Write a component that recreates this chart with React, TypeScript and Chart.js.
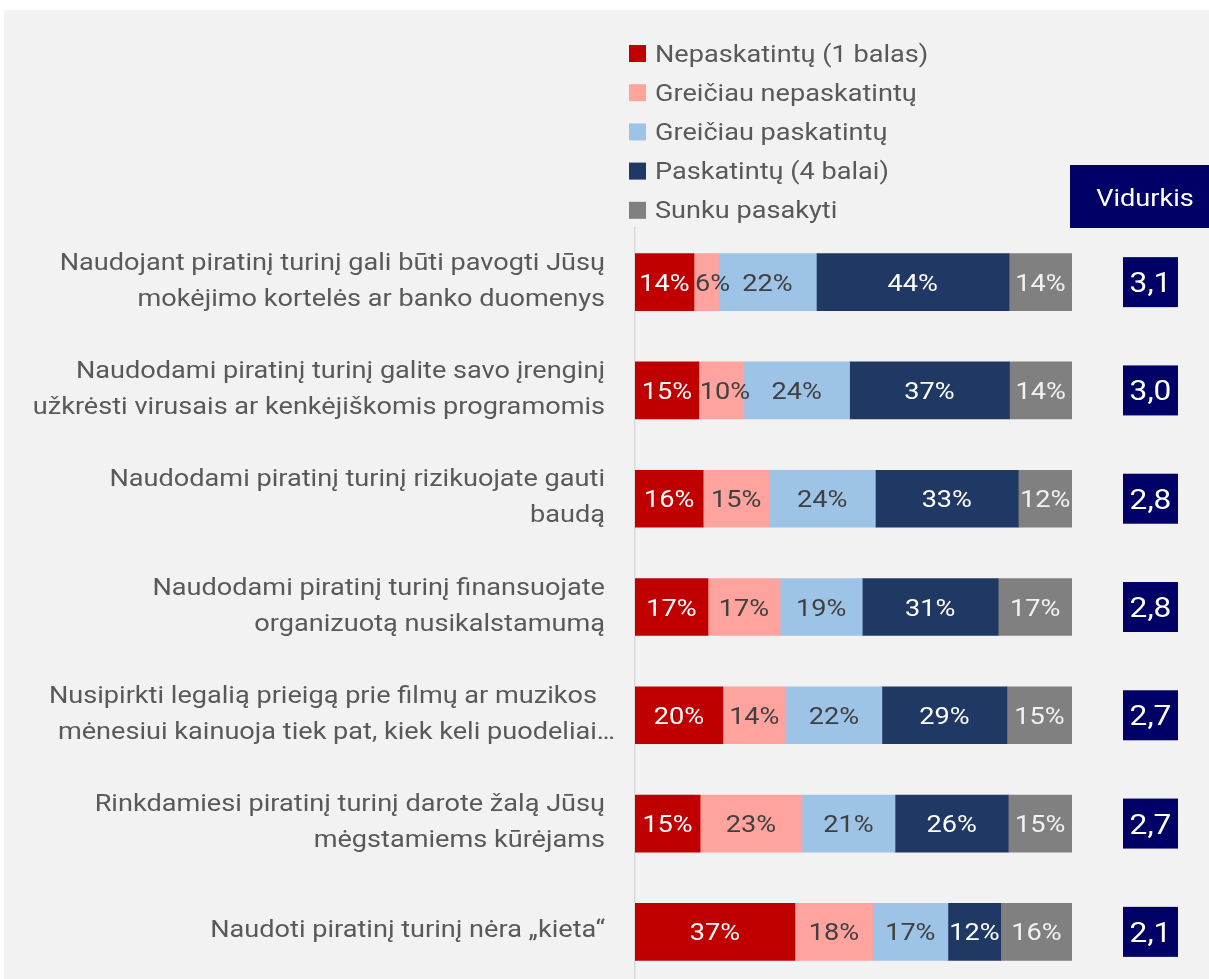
import React, { useEffect, useRef } from "react";
import { Chart, registerables } from "chart.js";
Chart.register(...registerables);

const categories: string[][] = [
  ["Naudojant piratinį turinį gali būti pavogti Jūsų", "mokėjimo kortelės ar banko duomenys"],
  ["Naudodami piratinį turinį galite savo įrenginį", "užkrėsti virusais ar kenkėjiškomis programomis"],
  ["Naudodami piratinį turinį rizikuojate gauti", "baudą"],
  ["Naudodami piratinį turinį finansuojate", "organizuotą nusikalstamumą"],
  ["Nusipirkti legalią prieigą prie filmų ar muzikos", "mėnesiui kainuoja tiek pat, kiek keli puodeliai…"],
  ["Rinkdamiesi piratinį turinį darote žalą Jūsų", "mėgstamiems kūrėjams"],
  ["Naudoti piratinį turinį nėra „kieta“"],
];

const seriesNames = [
  "Nepaskatintų (1 balas)",
  "Greičiau nepaskatintų",
  "Greičiau paskatintų",
  "Paskatintų (4 balai)",
  "Sunku pasakyti",
];

const nepaskatintu = [13.5, 14.6, 15.6, 16.7, 20.1, 14.9, 36.6];
const greiciauNepaskatintu = [5.6, 10.3, 15.1, 16.5, 14.4, 23.3, 17.8];
const greiciauPaskatintu = [22.4, 24.2, 24.3, 18.8, 22.0, 21.3, 17.2];
const paskatintu = [44.1, 36.6, 32.7, 31.1, 28.6, 25.9, 12.1];
const sunkuPasakyti = [14.4, 14.3, 12.3, 16.9, 14.9, 14.6, 16.3];

const averages = ["3,1", "3,0", "2,8", "2,8", "2,7", "2,7", "2,1"];
const averageHeader = "Vidurkis";

const seriesColors = ["#c00000", "#ffa39e", "#9dc3e6", "#203864", "#808080"];
const labelColors = ["#ffffff", "#404040", "#404040", "#ffffff", "#f2f2f2"];
const FONT = "Roboto, 'Noto Sans', sans-serif";
const SX = 1.13;

const W = 1209;
const H = 1000;

function textWidth(ctx: CanvasRenderingContext2D, text: string, size: number) {
  ctx.save();
  ctx.font = `${size}px ${FONT}`;
  const w = ctx.measureText(text).width * SX;
  ctx.restore();
  return w;
}

function drawText(ctx: CanvasRenderingContext2D, text: string, x: number, capCenterY: number, size: number, align: CanvasTextAlign, color: string) {
  ctx.save();
  ctx.font = `${size}px ${FONT}`;
  ctx.fillStyle = color;
  ctx.textAlign = align;
  ctx.textBaseline = "alphabetic";
  ctx.translate(x, capCenterY + size * 0.355);
  ctx.scale(SX, 1);
  ctx.fillText(text, 0, 0);
  ctx.restore();
}

export default function App() {
  const ref = useRef<HTMLCanvasElement | null>(null);

  useEffect(() => {
    const canvas = ref.current;
    if (!canvas) return;
    const values = [nepaskatintu, greiciauNepaskatintu, greiciauPaskatintu, paskatintu, sunkuPasakyti];

    const bgPlugin = {
      id: "bg",
      beforeDraw(chart: any) {
        const ctx = chart.ctx;
        ctx.save();
        ctx.fillStyle = "#ffffff";
        ctx.fillRect(0, 0, chart.width, chart.height);
        ctx.fillStyle = "#f2f2f2";
        ctx.fillRect(4, 10, chart.width - 4, chart.height - 10);
        ctx.restore();
      },
    };

    const overlayPlugin = {
      id: "overlay",
      afterDatasetsDraw(chart: any) {
        const ctx = chart.ctx;
        chart.data.datasets.forEach((ds: any, di: number) => {
          const meta = chart.getDatasetMeta(di);
          meta.data.forEach((bar: any, i: number) => {
            const v = ds.data[i];
            const txt = `${Math.round(v)}%`;
            const left = Math.min(bar.x, bar.base);
            const segW = Math.abs(bar.x - bar.base);
            const tw = textWidth(ctx, txt, 24);
            if (tw > segW + 4) {
              drawText(ctx, txt, left + 1, bar.y, 24, "left", labelColors[di]);
            } else {
              drawText(ctx, txt, left + segW / 2, bar.y, 24, "center", labelColors[di]);
            }
          });
        });
      },
      afterDraw(chart: any) {
        const ctx = chart.ctx;
        const yScale = chart.scales.y;
        // category labels (right-aligned; the truncated 5th label sits slightly off, as in the source)
        categories.forEach((lines, i) => {
          const yc = yScale.getPixelForValue(i) - 3;
          lines.forEach((line, j) => {
            const y = yc + (j - (lines.length - 1) / 2) * 36;
            let x = 605;
            if (line.endsWith("…")) x = 615;
            else if (i === 4) x = 597;
            drawText(ctx, line, x, y, 24, "right", "#595959");
          });
        });
        // legend
        seriesNames.forEach((name, i) => {
          const y = 53 + i * 39.2;
          ctx.fillStyle = seriesColors[i];
          ctx.fillRect(629, y - 8, 17, 17);
          drawText(ctx, name, 655, y, 24, "left", "#595959");
        });
        // average header
        ctx.fillStyle = "#000066";
        ctx.fillRect(1070, 165, W - 1070, 63);
        drawText(ctx, averageHeader, 1145, 197, 24, "center", "#ffffff");
        // averages
        averages.forEach((a, i) => {
          const y = yScale.getPixelForValue(i);
          ctx.fillStyle = "#000066";
          ctx.fillRect(1123, y - 25, 55, 50);
          drawText(ctx, a, 1150.5, y, 28, "center", "#ffffff");
        });
      },
    };

    const chart = new Chart(canvas, {
      type: "bar",
      data: {
        labels: categories.map((c) => c.join(" ")),
        datasets: values.map((d, i) => ({
          label: seriesNames[i],
          data: d,
          backgroundColor: seriesColors[i],
          borderWidth: 0,
          barThickness: 57,
        })),
      },
      options: {
        indexAxis: "y",
        responsive: false,
        animation: false,
        devicePixelRatio: 1,
        layout: { autoPadding: false, padding: { left: 0, top: 228, right: W - 1072, bottom: H - 986 } },
        plugins: {
          legend: { display: false },
          tooltip: { enabled: false },
          title: { display: false },
        },
        scales: {
          x: { stacked: true, min: 0, max: 100, display: false },
          y: {
            stacked: true,
            grid: { display: false, drawTicks: false, tickLength: 0 },
            border: { display: true, color: "#d9d9d9", width: 1.5 },
            ticks: { display: false },
            afterFit(scale: any) {
              scale.width = 635;
            },
          },
        },
      },
      plugins: [bgPlugin, overlayPlugin],
    } as any);

    return () => chart.destroy();
  }, []);

  return (
    <div style={{ position: "fixed", left: 0, top: 0, width: W, height: 979, overflow: "hidden" }}>
      <canvas ref={ref} width={W} height={H} style={{ display: "block" }} />
    </div>
  );
}
